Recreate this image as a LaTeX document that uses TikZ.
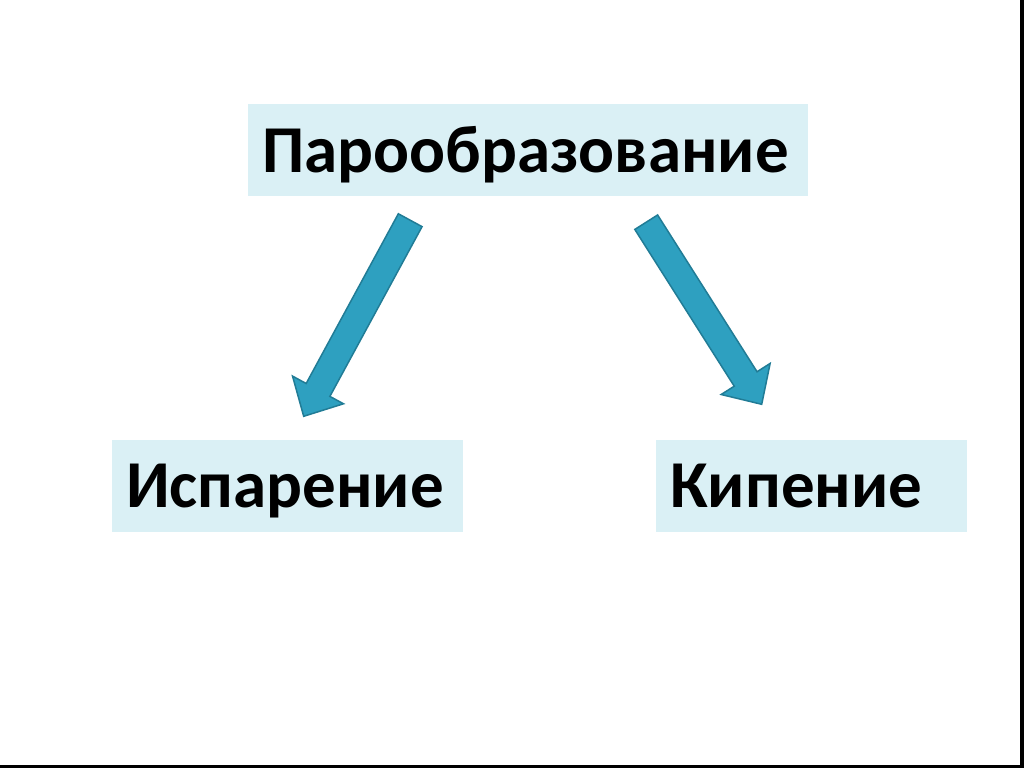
\documentclass[tikz,border=0pt]{standalone}
\usepackage{fontspec}
\setmainfont{Carlito}
\usetikzlibrary{calc}
\usetikzlibrary{positioning}

\definecolor{boxfill}{RGB}{218,240,245}
\definecolor{arrowfill}{RGB}{46,160,192}
\definecolor{arrowline}{RGB}{33,124,150}

\tikzset{
  term/.style={fill=boxfill, anchor=west, text height=68pt, text depth=24pt, inner xsep=14pt, inner ysep=0pt,
    align=left, font=\fontsize{67}{80}\selectfont\bfseries},
  fatarrow/.style={fill=arrowfill, draw=arrowline, line width=1.5pt, line join=miter}
}
% wide arrow from #1 (tail) to #2 (tip)
\newcommand{\bigarrow}[2]{%
  \coordinate (h) at ($(#2)!30pt!(#1)$);
  \draw[fatarrow] ($(#1)!13.5pt!90:(#2)$) -- ($(h)!13.5pt!90:(#2)$) -- ($(h)!29pt!90:(#2)$) -- (#2)
    -- ($(h)!29pt!-90:(#2)$) -- ($(h)!13.5pt!-90:(#2)$) -- ($(#1)!13.5pt!-90:(#2)$) -- cycle;
}

\begin{document}
\begin{tikzpicture}[x=1pt,y=-1pt]
\useasboundingbox (0,0) rectangle (1024,768);
\fill (1020,0) rectangle (1024,768);
\fill (0,765) rectangle (1024,768);
\node[term, text width=532pt] (par) at (248,150) {Парообразование};
\node[term, text width=323pt] (isp) at (112,485.5) {Испарение};
\node[term, text width=283pt] (kip) at (656,485.5) {Кипение};
\coordinate (a1) at ($(par.south)+(-118,24)$);
\coordinate (a2) at ($(isp.north)+(16,-23)$);
\coordinate (b1) at ($(par.south)+(118,26)$);
\coordinate (b2) at ($(kip.north)+(-50,-35)$);
\bigarrow{a1}{a2}
\bigarrow{b1}{b2}
\end{tikzpicture}
\end{document}
